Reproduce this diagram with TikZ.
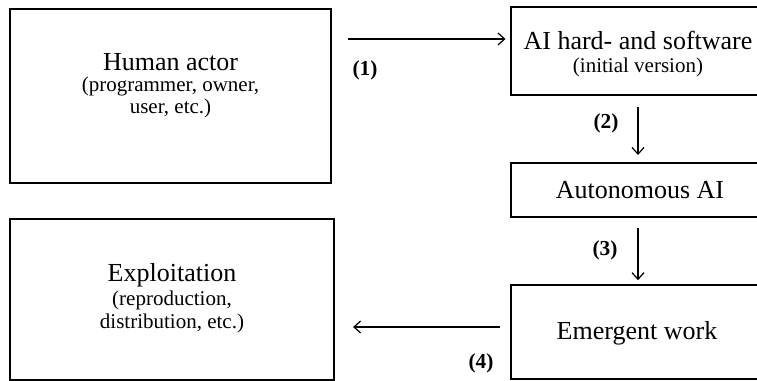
\documentclass[tikz,border=0pt]{standalone}
\usepackage{fontspec}
\setmainfont{Liberation Serif}
\usetikzlibrary{arrows.meta}
\begin{document}
\begin{tikzpicture}[x=0.75pt,y=-0.75pt,
  box/.style={draw=black, line width=1.2pt, rectangle, inner sep=0pt},
  maintxt/.style={font=\fontsize{19.5}{23}\selectfont, inner sep=0pt},
  subtxt/.style={font=\fontsize{15.75}{17}\selectfont, inner sep=0pt},
  numtxt/.style={font=\bfseries\fontsize{16}{18}\selectfont, inner sep=0pt},
  arr/.style={line width=0.9pt, -{Straight Barb[length=5pt,width=9pt]}}]
\useasboundingbox (0,0) rectangle (757,381);
\clip (0,0) rectangle (757,381);

% boxes
\node[box, minimum width=240.75pt, minimum height=130.5pt] (human) at (170.5,96) {};
\node[box, minimum width=243pt, minimum height=120.75pt] (expl) at (172,299.5) {};
\node[box, minimum width=190.5pt, minimum height=66pt] (ai) at (638,51) {};
\node[box, minimum width=190.5pt, minimum height=40.5pt] (auto) at (638,190) {};
\node[box, minimum width=190.5pt, minimum height=70.5pt] (emerg) at (638,332) {};

% texts
\node[maintxt] (t1) at (170.5,62) {Human actor};
\node[subtxt] (t2) at (170.5,86) {(programmer, owner,};
\node[subtxt] (t3) at (170.5,108) {user, etc.)};
\node[maintxt] (t4) at (638,40) {AI hard- and software};
\node[subtxt] (t5) at (638,67) {(initial version)};
\node[maintxt] (t6) at (640,190) {Autonomous AI};
\node[maintxt] (t7) at (637,333) {Emergent work};
\node[maintxt] (t8) at (172,275) {Exploitation};
\node[subtxt] (t9) at (172,300) {(reproduction,};
\node[subtxt] (t10) at (172,323) {distribution, etc.)};

% labels
\node[numtxt] (n1) at (365,70) {(1)};
\node[numtxt] (n2) at (606,123) {(2)};
\node[numtxt] (n3) at (605,250) {(3)};
\node[numtxt] (n4) at (481,363) {(4)};

% connectors
\coordinate (a1) at (348,39);
\coordinate (a4) at (420,327);
\draw[arr, shorten >=3.5pt] (a1) -- (a1 -| ai.west);
\draw[arr, shorten <=8.4pt, shorten >=5.4pt] (ai.south) -- (auto.north);
\draw[arr, shorten <=7.7pt, shorten >=3pt] (auto.south) -- (emerg.north);
\draw[arr, shorten <=7.7pt, shorten >=13.7pt] (emerg.west |- a4) -- (expl.east |- a4);
\end{tikzpicture}
\end{document}
